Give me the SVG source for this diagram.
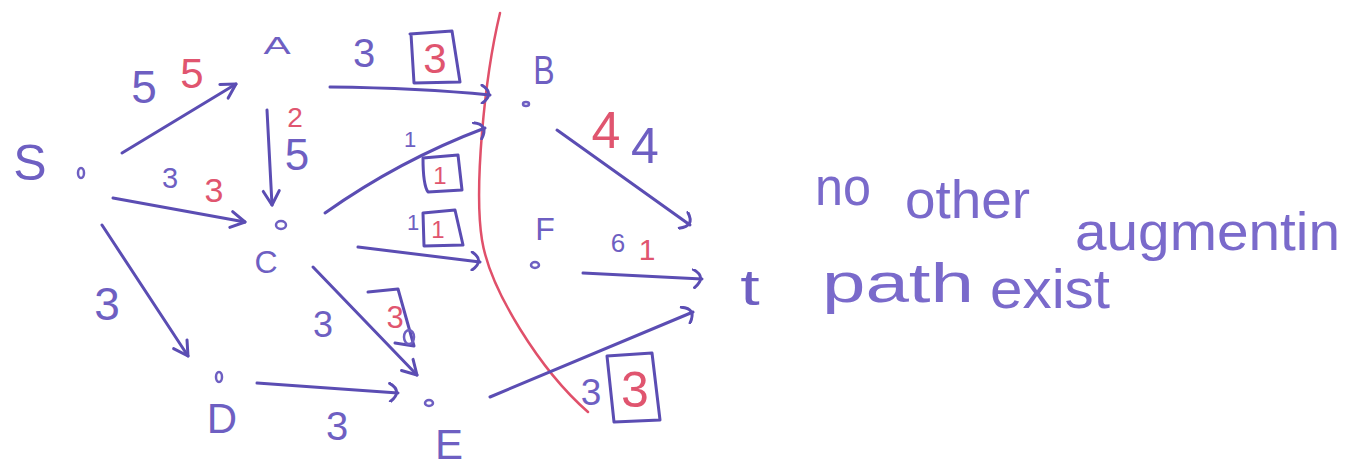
<svg xmlns="http://www.w3.org/2000/svg" width="1356" height="466" viewBox="0 0 1356 466">
<defs>
<style>
.e{fill:none;stroke:#5b4db3;stroke-width:3;stroke-linecap:round;stroke-linejoin:round}
.b{fill:#6e5fc2;font-family:"Liberation Sans",Arial,sans-serif;text-anchor:middle}
.r{fill:#e0556f;font-family:"Liberation Sans",Arial,sans-serif;text-anchor:middle}
.box{fill:none;stroke:#5b4db3;stroke-width:3;stroke-linejoin:round;stroke-linecap:round}
.dot{fill:none;stroke:#6e5fc2;stroke-width:2.5}
.cut{fill:none;stroke:#e0506a;stroke-width:2.5;stroke-linecap:round}
.note{fill:#7a6acb;font-family:"Liberation Sans",Arial,sans-serif}
</style>
<marker id="v" viewBox="0 0 20 20" refX="17" refY="10" markerWidth="20" markerHeight="20" markerUnits="userSpaceOnUse" orient="auto"><path d="M3,2 L17,10 L3,18" fill="none" stroke="#5b4db3" stroke-width="3" stroke-linecap="round" stroke-linejoin="round"/></marker>
<marker id="c" viewBox="0 0 20 20" refX="14" refY="10" markerWidth="20" markerHeight="20" markerUnits="userSpaceOnUse" orient="auto"><path d="M5,1 Q19,8 7,19" fill="none" stroke="#5b4db3" stroke-width="3" stroke-linecap="round"/></marker>
</defs>
<rect width="1356" height="466" fill="#ffffff"/>

<g id="cut-line">
<path class="cut" d="M500,13 C484,80 474,190 482,240 C490,290 540,370 588,412"/>
</g>

<g id="connectors">
<g id="edge-S-A"><path class="e" d="M122,153 L236,84" marker-end="url(#v)"/>
<text class="b" x="144" y="103" font-size="46">5</text><text class="r" x="192" y="88" font-size="42">5</text></g>
<g id="edge-A-B"><path class="e" d="M330,87 Q420,88 490,95" marker-end="url(#c)"/>
<text class="b" x="364" y="67" font-size="40">3</text>
<path class="box" d="M410,34 L452,31 L460,82 L414,83 L411,34"/>
<text class="r" x="435" y="73" font-size="42">3</text></g>
<g id="edge-A-C"><path class="e" d="M267,110 L272,205" marker-end="url(#v)"/>
<text class="r" x="295" y="127" font-size="28">2</text><text class="b" x="297" y="170" font-size="44">5</text></g>
<g id="edge-S-C"><path class="e" d="M113,198 L245,222" marker-end="url(#v)"/>
<text class="b" x="170" y="188" font-size="29">3</text><text class="r" x="214" y="202" font-size="34">3</text></g>
<g id="edge-S-D"><path class="e" d="M102,225 L188,356" marker-end="url(#v)"/>
<text class="b" x="107" y="320" font-size="46">3</text></g>
<g id="edge-C-B"><path class="e" d="M325,213 Q400,160 485,128" marker-end="url(#c)"/>
<text class="b" x="410" y="147" font-size="22">1</text>
<path class="box" d="M423,158 L458,155 L462,190 L428,192 Q423,185 423,158 Z"/>
<text class="r" x="440" y="184" font-size="24">1</text></g>
<g id="edge-C-F"><path class="e" d="M358,247 L480,262" marker-end="url(#c)"/>
<text class="b" x="413" y="230" font-size="22">1</text>
<path class="box" d="M423,213 L455,210 L463,245 L424,246 Z"/>
<text class="r" x="438" y="238" font-size="24">1</text></g>
<g id="edge-C-E"><path class="e" d="M313,267 L417,375" marker-end="url(#v)"/>
<text class="b" x="323" y="337" font-size="36">3</text>
<path class="box" d="M368,292 L398,289 L414,346 L395,343"/>
<ellipse class="dot" cx="409" cy="337" rx="5" ry="7"/>
<text class="r" x="395" y="328" font-size="31">3</text></g>
<g id="edge-D-E"><path class="e" d="M257,383 L398,393" marker-end="url(#c)"/>
<text class="b" x="337" y="440" font-size="40">3</text></g>
<g id="edge-B-t"><path class="e" d="M557,130 L690,225" marker-end="url(#c)"/>
<text class="r" x="606" y="148" font-size="52">4</text><text class="b" x="645" y="163" font-size="50">4</text></g>
<g id="edge-F-t"><path class="e" d="M583,273 L702,279" marker-end="url(#c)"/>
<text class="b" x="618" y="252" font-size="26">6</text><text class="r" x="647" y="260" font-size="30">1</text></g>
<g id="edge-E-t"><path class="e" d="M490,397 L693,312" marker-end="url(#c)"/>
<text class="b" x="591" y="405" font-size="37">3</text>
<path class="box" d="M607,356 L652,353 L660,420 L614,422 Z"/>
<text class="r" x="635" y="407" font-size="50">3</text></g>
</g>

<g id="node-S"><text class="b" x="30" y="180" font-size="50">S</text><ellipse class="dot" cx="81" cy="173" rx="3" ry="5"/></g>
<g id="node-A"><text class="b" font-size="24" transform="translate(277,54) scale(1.7,1)">A</text></g>
<g id="node-B"><text class="b" font-size="40" transform="translate(544,84) scale(0.8,1)">B</text><ellipse class="dot" cx="526" cy="104" rx="3" ry="2"/></g>
<g id="node-C"><text class="b" x="266" y="273" font-size="32">C</text><ellipse class="dot" cx="281" cy="225" rx="5" ry="4"/></g>
<g id="node-D"><text class="b" x="222" y="433" font-size="42">D</text><ellipse class="dot" cx="219" cy="377" rx="3" ry="5"/></g>
<g id="node-E"><text class="b" x="449" y="459" font-size="42">E</text><ellipse class="dot" cx="429" cy="403" rx="4" ry="3"/></g>
<g id="node-F"><text class="b" x="545" y="240" font-size="32">F</text><ellipse class="dot" cx="535" cy="265" rx="4" ry="3"/></g>
<g id="node-t"><text class="b" font-size="50" transform="translate(750,305) scale(1.4,1)">t</text></g>

<g id="note">
<text class="note" font-size="54" lengthAdjust="spacingAndGlyphs"><tspan x="815" y="205" textLength="56" lengthAdjust="spacingAndGlyphs">no</tspan><tspan x="905" y="218" textLength="125" lengthAdjust="spacingAndGlyphs">other</tspan><tspan x="1075" y="250" textLength="265" lengthAdjust="spacingAndGlyphs">augmentin</tspan></text>
<text class="note" font-size="56"><tspan x="822" y="302" textLength="152" lengthAdjust="spacingAndGlyphs">path</tspan><tspan x="990" y="308" textLength="120" lengthAdjust="spacingAndGlyphs">exist</tspan></text>
</g>
</svg>
